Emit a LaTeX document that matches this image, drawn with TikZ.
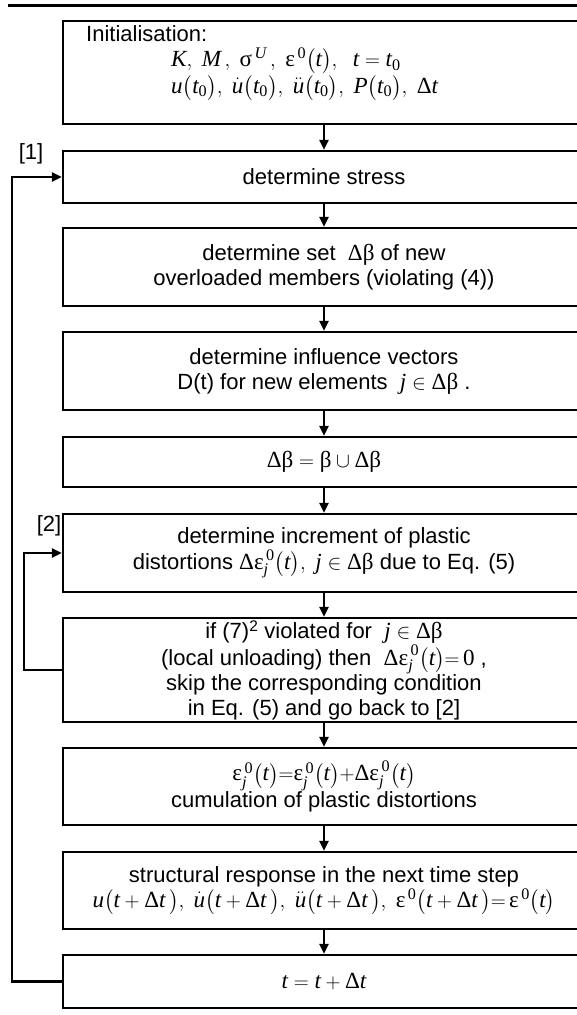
\documentclass[tikz,border=0pt]{standalone}
\usepackage{amsmath}
\usepackage{fontspec}
\setmainfont{Liberation Sans}
\newfontfamily\serif[Scale=1.05]{Liberation Serif}
\usetikzlibrary{arrows.meta}
% italic and upright symbols set in the serif face
\newcommand\vi[1]{\text{\serif\itshape #1}}
\newcommand\vr[1]{\text{\serif #1}}
\newcommand\pa[1]{\bigl(#1\bigr)}
\begin{document}
\begin{tikzpicture}[x=1pt,y=-1pt,
  box/.style={draw, line width=2.2pt, minimum width=522pt, inner sep=0pt,
    align=center, font=\fontsize{22}{25}\selectfont},
  flow/.style={line width=2.2pt, -{Triangle[length=10pt,width=9pt]}},
  lbl/.style={font=\fontsize{22}{25}\selectfont, inner sep=0pt}]
\useasboundingbox (0,0) rectangle (577,1015);
\clip (0,0) rectangle (577,1015);

% rule above the chart
\coordinate (ruleL) at (8,5);
\coordinate (ruleR) at (577,5);
\draw[line width=3pt] (ruleL) -- (ruleR);

% initialisation block
\node[box, minimum height=103pt] (b1) at (324,72.5) {};
\node[lbl, anchor=base west] (initT) at (86,41) {Initialisation:};
\node[lbl, anchor=west] (initA) at (171,61)
  {$\vi{K},\ \vi{M}\,,\ \vr{σ}^{\,\vi{U}}\,,\ \vr{ε}^{\,\vr{0}}\pa{\vi{t}},\ \ \vi{t}=\vi{t}_{\vr{0}}$};
\node[lbl, anchor=west] (initB) at (171,88)
  {$\vi{u}\pa{\vi{t}_{\vr{0}}},\ \dot{\vi{u}}\pa{\vi{t}_{\vr{0}}},\ \ddot{\vi{u}}\pa{\vi{t}_{\vr{0}}},\ \vi{P}\pa{\vi{t}_{\vr{0}}},\ \vr{Δ}\vi{t}$};

% main loop
\node[box, minimum height=52pt] (b2) at (324,177) {determine stress};
\node[box, minimum height=78pt] (b3) at (324,267)
  {determine set \ $\vr{Δβ}$ of new\\overloaded members (violating (4))};
\node[box, minimum height=78pt] (b4) at (324,371)
  {determine influence vectors\\D(t) for new elements \ $\vi{j}\in\vr{Δβ}$ .};
\node[box, minimum height=50pt] (b5) at (324,462)
  {$\vr{Δβ}=\vr{β}\cup\vr{Δβ}$};
\node[box, minimum height=78pt] (b6) at (324,553)
  {determine increment of plastic\\distortions $\vr{Δε}^{\,\vr{0}}_{\vi{j}}\pa{\vi{t}},\ \vi{j}\in\vr{Δβ}$ due to Eq. (5)};
\node[box, minimum height=104pt] (b7) at (324,670)
  {if (7)\textsuperscript{2} violated for \ $\vi{j}\in\vr{Δβ}$\\
   (local unloading) then \ $\vr{Δε}^{\,\vr{0}}_{\vi{j}}\pa{\vi{t}}{=}\,\vr{0}$ ,\\
   skip the corresponding condition\\in Eq. (5) and go back to [2]};
\node[box, minimum height=77pt] (b8) at (324,786.5)
  {$\vr{ε}^{\,\vr{0}}_{\vi{j}}\pa{\vi{t}}{=}\vr{ε}^{\,\vr{0}}_{\vi{j}}\pa{\vi{t}}{+}\vr{Δε}^{\,\vr{0}}_{\vi{j}}\pa{\vi{t}}$\\
   cumulation of plastic distortions};
\node[box, minimum height=77pt] (b9) at (324,890.5)
  {structural response in the next time step\\
   $\vi{u}\pa{\vi{t}+\vr{Δ}\vi{t}\,},\ \dot{\vi{u}}\pa{\vi{t}+\vr{Δ}\vi{t}\,},\ \ddot{\vi{u}}\pa{\vi{t}+\vr{Δ}\vi{t}\,},\ \vr{ε}^{\,\vr{0}}\pa{\vi{t}+\vr{Δ}\vi{t}\,}{=}\,\vr{ε}^{\,\vr{0}}\pa{\vi{t}}$};
\node[box, minimum height=53pt] (b10) at (324,981.5)
  {$\vi{t}=\vi{t}+\vr{Δ}\vi{t}$};

% straight flow
\draw[flow] (b1.south) -- (b2.north);
\draw[flow] (b2.south) -- (b3.north);
\draw[flow] (b3.south) -- (b4.north);
\draw[flow] (b4.south) -- (b5.north);
\draw[flow] (b5.south) -- (b6.north);
\draw[flow] (b6.south) -- (b7.north);
\draw[flow] (b7.south) -- (b8.north);
\draw[flow] (b8.south) -- (b9.north);
\draw[flow] (b9.south) -- (b10.north);

% feedback loops
\coordinate (outer) at (12,0);
\coordinate (inner) at (24,0);
\draw[flow] (b10.west) -- (b10.west -| outer) -- (b2.west -| outer) -- (b2.west);
\draw[flow] (b7.west) -- (b7.west -| inner) -- (b6.west -| inner) -- (b6.west);
\node[lbl] (mark1) at (31,154) {[1]};
\node[lbl] (mark2) at (49,526) {[2]};
\end{tikzpicture}
\end{document}
